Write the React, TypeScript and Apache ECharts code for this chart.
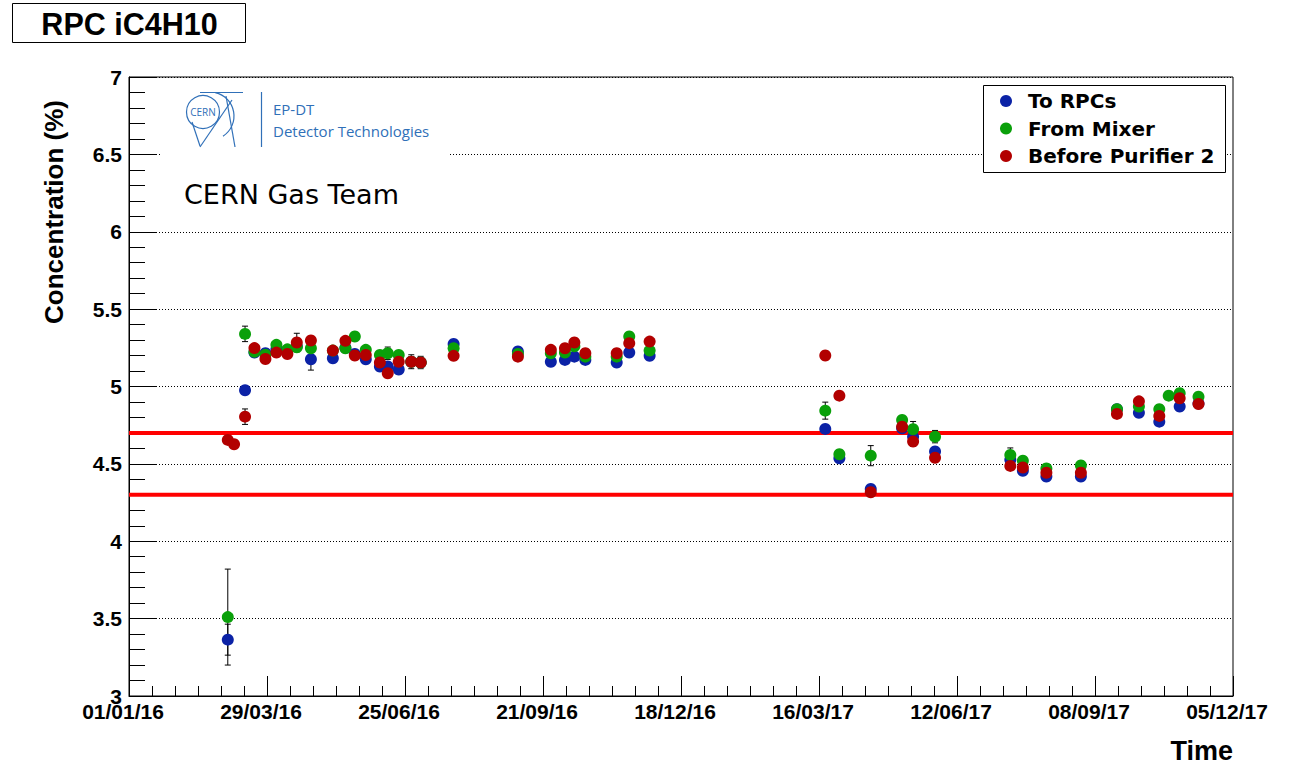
import React, { useEffect, useRef } from "react";
import * as echarts from "echarts";

// ---- data ----
const DATES = [
  "2016-03-04", "2016-03-08", "2016-03-15", "2016-03-21", "2016-03-28", "2016-04-04", "2016-04-11",
  "2016-04-17", "2016-04-26", "2016-05-10", "2016-05-18", "2016-05-24", "2016-05-31", "2016-06-09",
  "2016-06-14", "2016-06-21", "2016-06-29", "2016-07-05", "2016-07-26", "2016-09-05", "2016-09-26",
  "2016-10-05", "2016-10-11", "2016-10-18", "2016-11-07", "2016-11-15", "2016-11-28", "2017-03-20",
  "2017-03-29", "2017-04-18", "2017-05-08", "2017-05-15", "2017-05-29", "2017-07-16", "2017-07-24",
  "2017-08-08", "2017-08-30", "2017-09-22", "2017-10-06", "2017-10-19", "2017-10-25", "2017-11-01",
  "2017-11-13",
];
const TO_RPCS = [
  3.364, null, 4.976, 5.22, 5.215, 5.24, 5.235, 5.26, 5.176, 5.183, 5.25, 5.21, 5.176, 5.129,
  5.129, 5.11, 5.16, 5.155, 5.275, 5.226, 5.16, 5.172, 5.193, 5.172, 5.155, 5.22, 5.198, 4.726,
  4.536, 4.338, 4.73, 4.676, 4.58, 4.526, 4.456, 4.418, 4.418, 4.853, 4.83, 4.773, null, 4.87,
  4.89,
];
const TO_RPCS_ERR = [
  0.1, 0, 0.012, 0.012, 0.012, 0.012, 0.012, 0.012, 0.07, 0.012, 0.012, 0.012, 0.012, 0.012,
  0.012, 0.012, 0.012, 0.012, 0.012, 0.012, 0.012, 0.012, 0.012, 0.012, 0.012, 0.012, 0.012, 0.012,
  0.012, 0.012, 0.012, 0.012, 0.012, 0.012, 0.012, 0.012, 0.012, 0.012, 0.012, 0.012, 0, 0.012,
  0.012,
];
const FROM_MIXER = [
  3.51, null, 5.34, 5.225, 5.205, 5.269, 5.24, 5.254, 5.247, 5.232, 5.247, 5.323, 5.237, 5.204,
  5.215, 5.204, 5.16, 5.155, 5.247, 5.21, 5.215, 5.219, 5.26, 5.193, 5.193, 5.323, 5.232, 4.844,
  4.562, 4.553, 4.784, 4.724, 4.676, 4.558, 4.52, 4.47, 4.49, 4.853, 4.87, 4.853, 4.941, 4.956,
  4.934,
];
const FROM_MIXER_ERR = [
  0.31, 0, 0.05, 0.012, 0.012, 0.012, 0.012, 0.012, 0.012, 0.012, 0.012, 0.012, 0.012, 0.012,
  0.04, 0.012, 0.012, 0.012, 0.012, 0.012, 0.012, 0.012, 0.012, 0.012, 0.012, 0.012, 0.012, 0.055,
  0.012, 0.065, 0.012, 0.05, 0.04, 0.045, 0.012, 0.012, 0.012, 0.012, 0.012, 0.012, 0.012, 0.012,
  0.012,
];
const BEFORE_PURIFIER_2 = [
  4.655, 4.627, 4.805, 5.248, 5.178, 5.219, 5.21, 5.284, 5.297, 5.232, 5.295, 5.2, 5.204, 5.155,
  5.086, 5.16, 5.16, 5.155, 5.198, 5.193, 5.237, 5.247, 5.284, 5.215, 5.215, 5.28, 5.29, 5.2,
  4.941, 4.317, 4.74, 4.644, 4.54, 4.487, 4.477, 4.443, 4.443, 4.823, 4.904, 4.81, null, 4.924,
  4.887,
];
const BEFORE_PURIFIER_2_ERR = [
  0.012, 0.012, 0.05, 0.012, 0.012, 0.012, 0.012, 0.06, 0.012, 0.012, 0.012, 0.012, 0.012, 0.012,
  0.012, 0.012, 0.045, 0.04, 0.012, 0.012, 0.012, 0.012, 0.012, 0.012, 0.012, 0.012, 0.012, 0.012,
  0.012, 0.012, 0.012, 0.03, 0.012, 0.012, 0.012, 0.012, 0.012, 0.012, 0.012, 0.012, 0, 0.012,
  0.012,
];
const SERIES_NAMES = ["To RPCs", "From Mixer", "Before Purifier 2"];
const SERIES_COLORS = ["#0b22a6", "#0aa00a", "#b20000"];
const LIMITS = [4.7, 4.3];
const AXIS_START = "2016-01-01";
const AXIS_DAYS = 704;
const TICK_DAYS = 88;

const DAY_MS = 86400000;
const startMs = Date.parse(AXIS_START + "T00:00:00Z");
const toDay = (s: string) => (Date.parse(s + "T00:00:00Z") - startMs) / DAY_MS;
const fmtDay = (d: number) => {
  const dt = new Date(startMs + Math.round(d) * DAY_MS);
  const p = (n: number) => String(n).padStart(2, "0");
  return `${p(dt.getUTCDate())}/${p(dt.getUTCMonth() + 1)}/${p(dt.getUTCFullYear() % 100)}`;
};

const build = (vals: (number | null)[]) =>
  DATES.map((d, i) => (vals[i] == null ? null : [toDay(d), vals[i]])).filter(Boolean);
const buildErr = (vals: (number | null)[], errs: number[]) =>
  DATES.map((d, i) => (vals[i] == null ? null : [toDay(d), vals[i], errs[i]])).filter(Boolean);

const LOGO_BLUE = "#3070b8";

export default function App() {
  const ref = useRef<HTMLDivElement>(null);
  useEffect(() => {
    if (!ref.current) return;
    const chart = echarts.init(ref.current, null, { renderer: "svg" });
    const values = [TO_RPCS, FROM_MIXER, BEFORE_PURIFIER_2];
    const errs = [TO_RPCS_ERR, FROM_MIXER_ERR, BEFORE_PURIFIER_2_ERR];

    const errorSeries = values.map((v, k) => ({
      type: "custom",
      name: SERIES_NAMES[k] + " err",
      z: 2,
      silent: true,
      data: buildErr(v, errs[k]),
      renderItem: (params: any, api: any) => {
        const x = api.value(0);
        const y = api.value(1);
        const e = api.value(2);
        const top = api.coord([x, y + e]);
        const bot = api.coord([x, y - e]);
        const style = { stroke: "#000", lineWidth: 1 };
        return {
          type: "group",
          children: [
            { type: "line", shape: { x1: top[0], y1: top[1], x2: bot[0], y2: bot[1] }, style },
            { type: "line", shape: { x1: top[0] - 3, y1: top[1], x2: top[0] + 3, y2: top[1] }, style },
            { type: "line", shape: { x1: bot[0] - 3, y1: bot[1], x2: bot[0] + 3, y2: bot[1] }, style },
          ],
        };
      },
    }));

    const scatterSeries = values.map((v, k) => ({
      type: "scatter",
      name: SERIES_NAMES[k],
      z: 3,
      symbol: "circle",
      symbolSize: 12,
      itemStyle: { color: SERIES_COLORS[k], opacity: 1 },
      data: build(v),
    }));

    const limitSeries = LIMITS.map((l, i) => ({
      type: "line",
      name: "limit" + i,
      z: 1,
      silent: true,
      symbol: "none",
      lineStyle: { color: "#ff0000", width: 4 },
      data: [
        [0, l],
        [AXIS_DAYS, l],
      ],
    }));

    const labelFont = { fontFamily: "Liberation Sans", fontWeight: "bold", fontSize: 21, color: "#000" };
    const lz = 3;
    const logoLine = (x1: number, y1: number, x2: number, y2: number) => ({
      type: "line",
      z: lz,
      shape: { x1, y1, x2, y2 },
      style: { stroke: LOGO_BLUE, lineWidth: 1.2 },
    });

    chart.setOption({
      animation: false,
      grid: {
        left: 129,
        right: 65,
        top: 77,
        bottom: 78,
        show: true,
        borderColor: "#000",
        borderWidth: 1,
        backgroundColor: "transparent",
      },
      xAxis: {
        type: "value",
        min: 0,
        max: AXIS_DAYS,
        interval: TICK_DAYS,
        axisLine: { lineStyle: { color: "#000", width: 1 } },
        axisTick: { inside: true, length: 20, lineStyle: { color: "#000" } },
        minorTick: { show: true, splitNumber: 6, length: 10, lineStyle: { color: "#000" } },
        splitLine: { show: false },
        axisLabel: { ...labelFont, margin: 5, padding: [0, 12, 0, 0], formatter: (v: number) => fmtDay(v) },
      },
      yAxis: {
        type: "value",
        min: 3,
        max: 7,
        interval: 0.5,
        axisLine: { show: true, lineStyle: { color: "#000", width: 1 } },
        axisTick: { show: true, inside: true, length: 27, lineStyle: { color: "#000" } },
        minorTick: { show: true, splitNumber: 5, length: 16, lineStyle: { color: "#000" } },
        splitLine: { show: true, lineStyle: { color: "#000", width: 1, type: [1, 2] } },
        axisLabel: { ...labelFont, margin: 7, formatter: (v: number) => String(v) },
      },
      legend: {
        data: SERIES_NAMES,
        orient: "vertical",
        left: 995,
        top: 86,
        icon: "circle",
        itemWidth: 34,
        itemHeight: 12,
        itemGap: 7.5,
        selectedMode: false,
        z: 6,
        textStyle: {
          fontFamily: "DejaVu Sans",
          fontWeight: "bold",
          fontSize: 20,
          lineHeight: 20,
          color: "#000",
        },
      },
      graphic: [
        // title box
        {
          type: "rect",
          z: 5,
          shape: { x: 12.5, y: 3.5, width: 233, height: 39 },
          style: { fill: "#fff", stroke: "#000", lineWidth: 1 },
        },
        {
          type: "text",
          z: 6,
          x: 129.5,
          y: 24,
          style: {
            text: "RPC iC4H10",
            fontFamily: "Liberation Sans",
            fontWeight: "bold",
            fontSize: 30.5,
            fill: "#000",
            align: "center",
            verticalAlign: "middle",
          },
        },
        // legend box
        {
          type: "rect",
          z: 5,
          shape: { x: 983.5, y: 85.5, width: 242, height: 87 },
          style: { fill: "#fff", stroke: "#000", lineWidth: 1 },
        },
        // white background behind logo
        {
          type: "rect",
          z: 1,
          shape: { x: 160, y: 82, width: 290, height: 80 },
          style: { fill: "#fff" },
        },
        // CERN logo (approximation)
        { type: "circle", z: lz, shape: { cx: 203, cy: 112, r: 16.5 }, style: { fill: "none", stroke: LOGO_BLUE, lineWidth: 1.2 } },
        logoLine(200, 92.5, 243, 92.5),
        { type: "arc", z: lz, shape: { cx: 210, cy: 116, r: 24, startAngle: -1.35, endAngle: 1.0 }, style: { fill: "none", stroke: LOGO_BLUE, lineWidth: 1.2 } },
        logoLine(200, 147, 232, 100),
        logoLine(235, 147, 226, 96),
        logoLine(192, 122, 200, 146),
        {
          type: "text",
          z: lz,
          x: 203,
          y: 111.5,
          style: { text: "CERN", fontFamily: "Open Sans", fontSize: 10, fill: LOGO_BLUE, align: "center", verticalAlign: "middle" },
        },
        logoLine(261.5, 92, 261.5, 147),
        {
          type: "text",
          z: lz,
          x: 273,
          y: 109,
          style: { text: "EP-DT", fontFamily: "Open Sans", fontSize: 15, fill: LOGO_BLUE, verticalAlign: "middle" },
        },
        {
          type: "text",
          z: lz,
          x: 273,
          y: 131,
          style: { text: "Detector Technologies", fontFamily: "Open Sans", fontSize: 15, fill: LOGO_BLUE, verticalAlign: "middle" },
        },
        {
          type: "text",
          z: 6,
          x: 184,
          y: 194,
          style: {
            text: "CERN Gas Team",
            fontFamily: "DejaVu Sans",
            fontSize: 27,
            fill: "#000",
            verticalAlign: "middle",
          },
        },
        // axis titles
        {
          type: "text",
          z: 6,
          x: 54,
          y: 212,
          rotation: Math.PI / 2,
          style: {
            text: "Concentration (%)",
            fontFamily: "Liberation Sans",
            fontWeight: "bold",
            fontSize: 26,
            fill: "#000",
            align: "center",
            verticalAlign: "middle",
          },
        },
        {
          type: "text",
          z: 6,
          x: 1233,
          y: 751,
          style: {
            text: "Time",
            fontFamily: "Liberation Sans",
            fontWeight: "bold",
            fontSize: 27,
            fill: "#000",
            align: "right",
            verticalAlign: "middle",
          },
        },
      ],
      series: [...limitSeries, ...errorSeries, ...scatterSeries],
    });
    return () => chart.dispose();
  }, []);
  return <div ref={ref} style={{ position: "absolute", left: 0, top: 0, width: 1298, height: 774 }} />;
}
